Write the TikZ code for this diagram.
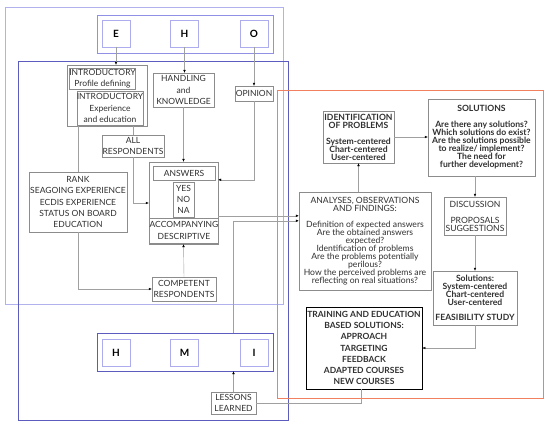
\documentclass[tikz,border=0pt]{standalone}
\usepackage{fontspec}
\setmainfont{Lato}
\usepackage{tikz}
\usetikzlibrary{arrows.meta,positioning}
\definecolor{lavframe}{HTML}{9090E6}
\definecolor{lavbox}{HTML}{ACACEE}
\definecolor{blueframe}{HTML}{5C5CBE}
\definecolor{orangeframe}{HTML}{F08060}
\definecolor{boxgray}{HTML}{8C8C8C}
\definecolor{linegray}{HTML}{A0A0A0}
\definecolor{textdark}{HTML}{303030}
\newcommand{\lsmall}{\fontsize{8.5}{11.3}\selectfont}
\newcommand{\rsmall}{\fontsize{8.6}{8}\selectfont}

\begin{document}
\begin{tikzpicture}[x=1pt, y=-1pt,
  box/.style={draw=boxgray, fill=white, inner sep=0pt, align=center, text=textdark, font=\lsmall},
  rbox/.style={box, font=\rsmall},
  letter/.style={draw=lavbox, fill=white, minimum width=28pt, minimum height=27pt, font=\fontsize{10}{11}\selectfont\bfseries},
  conn/.style={draw=linegray, -{Latex[length=3pt,width=2.6pt,color=black]}},
  link/.style={draw=linegray}]
  \useasboundingbox (0,0) rectangle (550,426);

  % frames
  \draw[lavframe!70, line width=0.8pt] (5,7) rectangle (283,304);
  \draw[blueframe] (18,61) rectangle (288,420);
  \draw[orangeframe, thick] (277,90) rectangle (543,398);

  % E H O
  \node[draw=lavframe, line width=0.7pt, fill=white, minimum width=176pt, minimum height=38pt] (eho) at (185,34) {};
  \node[letter] (E) at (116,33.5) {E};
  \node[letter] (H) at (184.5,33.5) {H};
  \node[letter] (O) at (254,33.5) {O};

  % questionnaire
  \node[box, minimum width=80pt, minimum height=61pt] (intro) at (107,95.5) {};
  \node[box, minimum width=65pt, minimum height=21pt] (intro1) at (102.5,78.5) {INTRODUCTORY\\Profile defining};
  \node[box, minimum width=66pt, minimum height=34pt] (intro2) at (110,108) {INTRODUCTORY\\Experience\\and education};
  \node[box, minimum width=61pt, minimum height=34pt] (handling) at (183.5,90) {HANDLING\\and\\KNOWLEDGE};
  \node[box, minimum width=38pt, minimum height=15pt] (opinion) at (254,93.5) {OPINION};
  \node[box, minimum width=62pt, minimum height=22pt] (allresp) at (133,146) {ALL\\RESPONDENTS};
  \node[box, minimum width=98pt, minimum height=60pt] (rank) at (78,202) {RANK\\SEAGOING EXPERIENCE\\ECDIS EXPERIENCE\\STATUS ON BOARD\\EDUCATION};
  \node[box, minimum width=69pt, minimum height=82pt] (answers) at (183.5,203) {};
  \node[box, minimum width=62pt, minimum height=14pt] (ansin) at (184,173) {ANSWERS};
  \node[box, minimum width=21pt, minimum height=35pt] (yesno) at (183.5,199.5) {YES\\NO\\NA};
  \node[box, minimum width=66pt, minimum height=25pt] (accomp) at (184,230.5) {ACCOMPANYING\\DESCRIPTIVE};
  \node[box, minimum width=64pt, minimum height=24pt] (competent) at (184,289) {COMPETENT\\RESPONDENTS};

  % H M I
  \node[draw=blueframe, fill=white, minimum width=176pt, minimum height=38pt] (hmi) at (185,352) {};
  \node[letter] (H2) at (116,353) {H};
  \node[letter] (M) at (184.5,353) {M};
  \node[letter] (I) at (254,353) {I};
  \node[box, minimum width=45pt, minimum height=22pt, inner sep=1pt] (lessons) at (233.5,403) {LESSONS\\LEARNED};

  % analysis side
  \node[rbox, minimum width=71pt, minimum height=52pt, font=\rsmall\bfseries] (ident) at (358.5,137) {IDENTIFICATION\\OF PROBLEMS\\[8pt]System-centered\\Chart-centered\\User-centered};
  \node[rbox, minimum width=107pt, minimum height=77pt, font=\rsmall\bfseries] (solutions) at (481.5,137.5) {SOLUTIONS\\[8pt]Are there any solutions?\\Which solutions do exist?\\Are the solutions possible\\to realize/ implement?\\The need for\\further development?};
  \node[rbox, minimum width=132pt, minimum height=98pt] (analyses) at (365,241) {ANALYSES, OBSERVATIONS\\AND FINDINGS:\\[8pt]Definition of expected answers\\Are the obtained answers\\expected?\\Identification of problems\\Are the problems potentially\\perilous?\\How the perceived problems are\\reflecting on real situations?};
  \node[rbox, minimum width=62pt, minimum height=38pt] (discussion) at (475,216) {DISCUSSION\\[8pt]PROPOSALS\\SUGGESTIONS};
  \node[rbox, minimum width=84pt, minimum height=54pt, font=\rsmall\bfseries] (solfeas) at (475,298) {Solutions:\\System-centered\\Chart-centered\\User-centered\\[7pt]FEASIBILITY STUDY};
  \node[box, draw=black, thick, minimum width=116pt, minimum height=82pt, font=\lsmall\bfseries] (training) at (364,348) {TRAINING AND EDUCATION\\BASED SOLUTIONS:\\APPROACH\\TARGETING\\FEEDBACK\\ADAPTED COURSES\\NEW COURSES};

  % connectors
  \draw[conn] (E.south) -- (E.south |- intro.north);
  \draw[conn] (H.south) -- (H.south |- handling.north);
  \draw[conn] (O.south) -- (opinion.north);
  \draw[conn] (opinion.south) |- ([yshift=-18pt]answers.north east);
  \draw[conn] (handling.south) -- (handling.south |- answers.north);
  \draw[link] (allresp.north |- intro.south) -- (allresp.north);
  \draw[conn] (allresp.south) |- (answers.west);
  \draw[link] (rank.north |- intro.south) -- (rank.north);
  \draw[conn] (rank.south) |- (competent.west);
  \draw[conn] (competent.north) -- (answers.south);
  \draw[conn] ([yshift=-54pt]answers.north east) -- ([yshift=-54pt]answers.north east -| analyses.west);
  \draw[conn] (lessons.north |- hmi.north) |- ([yshift=-29pt]analyses.north west);
  \draw[conn] (lessons.north) -- (lessons.north |- hmi.south);
  \draw[link] ([xshift=-3pt]training.south) |- (lessons.east);
  \draw[conn] (ident.south |- analyses.north) -- (ident.south);
  \draw[conn] (ident.east) -- (ident.east -| solutions.west);
  \draw[conn] (discussion.north |- solutions.south) -- (discussion.north);
  \draw[conn] (discussion.south) -- (solfeas.north);
  \draw[conn] (solfeas.south) |- (training.east);
\end{tikzpicture}
\end{document}
